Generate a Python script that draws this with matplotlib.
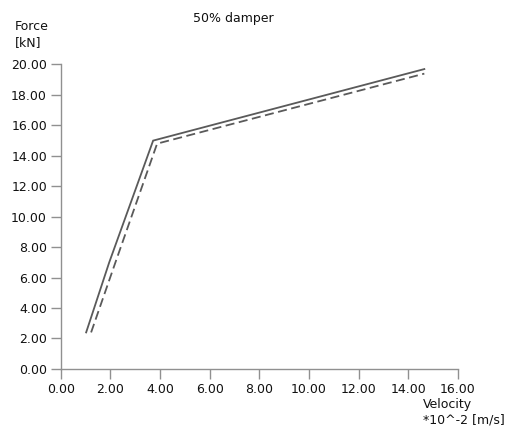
import matplotlib
matplotlib.use("Agg")
import matplotlib.pyplot as plt

# Data
solid_x = [1.02, 1.95, 3.72, 14.65]
solid_y = [2.4, 7.0, 15.0, 19.7]
dashed_x = [1.22, 2.2, 3.88, 14.65]
dashed_y = [2.4, 7.0, 14.8, 19.4]
xticks = [0, 2, 4, 6, 8, 10, 12, 14, 16]
yticks = [0, 2, 4, 6, 8, 10, 12, 14, 16, 18, 20]

plt.rcParams['font.family'] = ['DejaVu Sans']
fig = plt.figure(figsize=(5.07, 4.30), dpi=100)
ax = fig.add_axes([0.12, 0.142, 0.783, 0.708])

line_col = '#5a5a5a'
ax.plot(solid_x, solid_y, color=line_col, lw=1.3, solid_joinstyle='miter')
ax.plot(dashed_x, dashed_y, color=line_col, lw=1.3, dashes=(5, 2.5))

ax.set_xlim(0, 16)
ax.set_ylim(0, 20)
ax.set_xticks(xticks)
ax.set_yticks(yticks)
ax.set_xticklabels([f"{v:.2f}" for v in xticks])
ax.set_yticklabels([f"{v:.2f}" for v in yticks])

for s in ['top', 'right']:
    ax.spines[s].set_visible(False)
for s in ['left', 'bottom']:
    ax.spines[s].set_color('#909090')
    ax.spines[s].set_linewidth(1.0)
ax.tick_params(axis='both', direction='out', length=7, width=1.0, color='#909090',
               labelsize=9, labelcolor='#111111', pad=3)

fig.text(0.46, 0.972, "50% damper", ha='center', va='top', fontsize=9, color='#111111')
fig.text(0.03, 0.953, "Force\n[kN]", ha='left', va='top', fontsize=9, color='#111111', linespacing=1.3)
fig.text(0.995, 0.075, "Velocity\n*10^-2 [m/s]", ha='right', va='top', fontsize=9, color='#111111',
         linespacing=1.3, multialignment='left')

fig.savefig("out.png", dpi=100, facecolor='white')
